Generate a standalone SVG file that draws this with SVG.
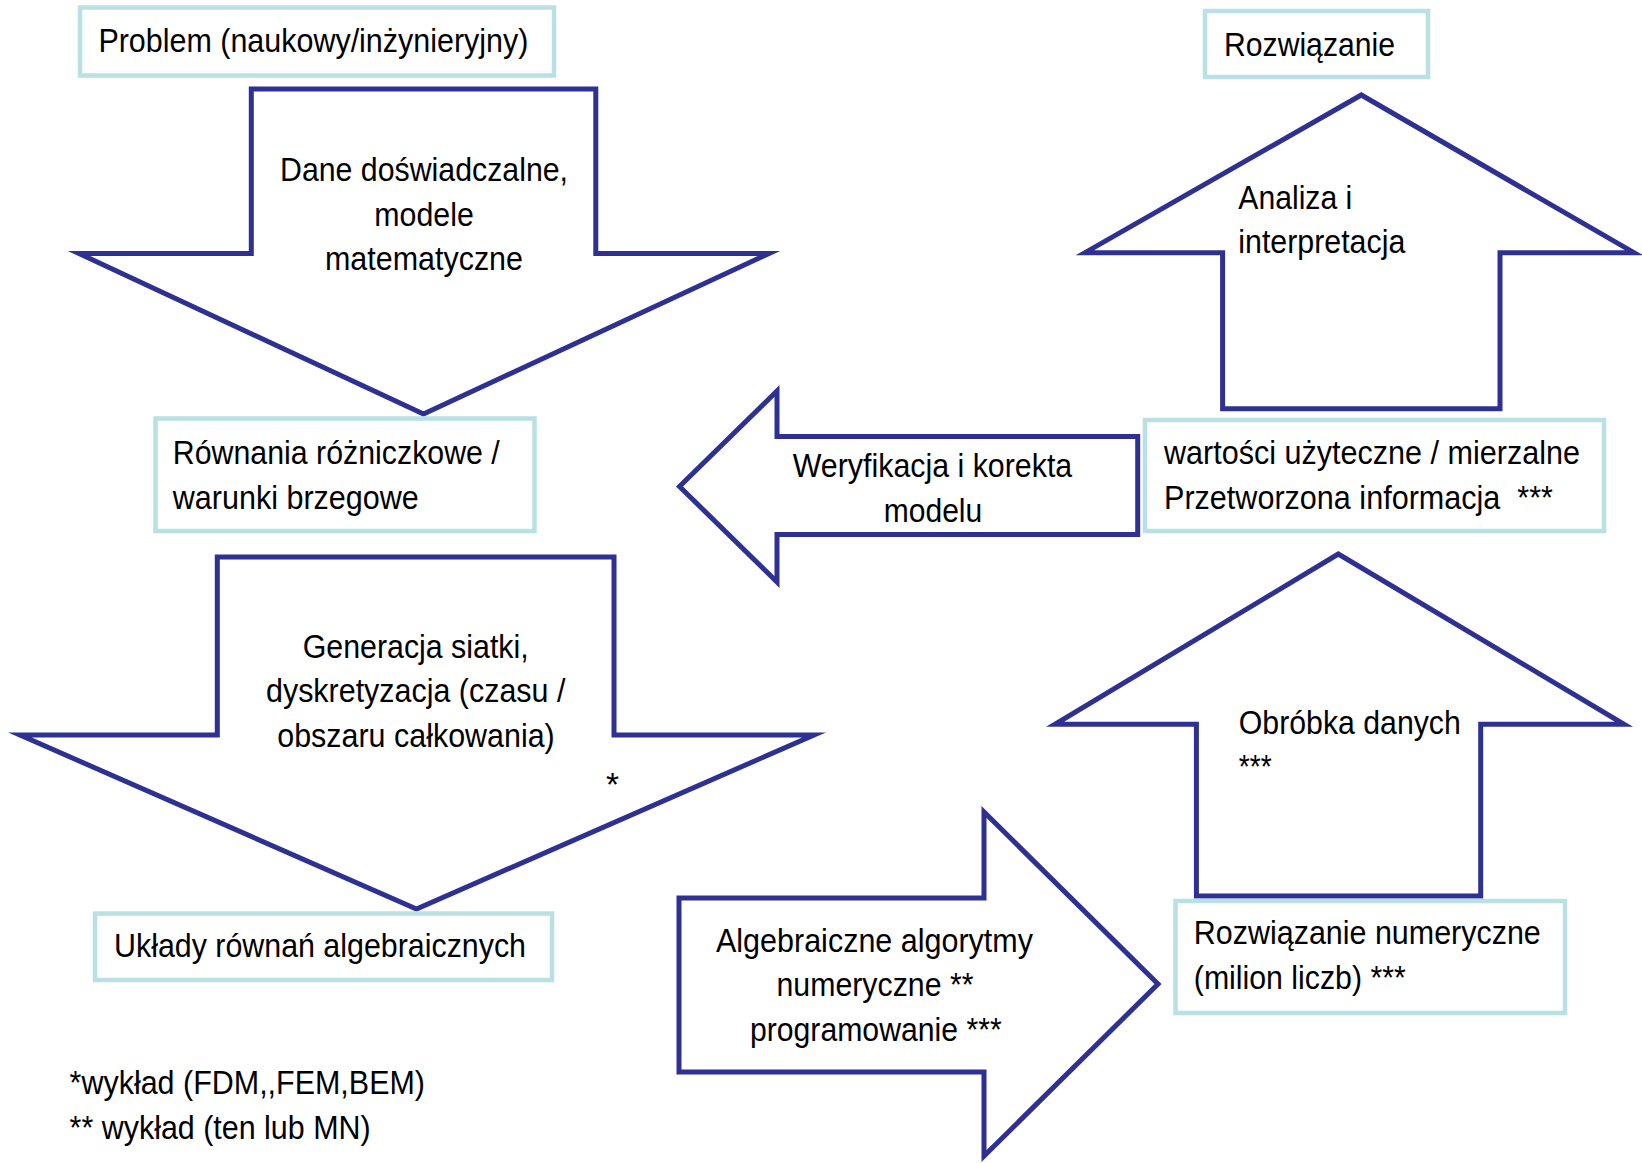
<svg xmlns="http://www.w3.org/2000/svg" width="1642" height="1163" viewBox="0 0 1642 1163">
<style>
.arrow{fill:#fff;stroke:#2e3192;stroke-width:5;stroke-linejoin:miter;stroke-miterlimit:10}
.box{fill:#fff;stroke:#b9e0e3;stroke-width:4.5}
text{font-family:"Liberation Sans",Arial,sans-serif;font-size:33.5px;fill:#000}
.m{text-anchor:middle}
</style>
<rect width="1642" height="1163" fill="#fff"/>
<g id="connectors">
<g id="arrow-dane">
<polygon class="arrow" points="251.3,89 595.8,89 595.8,253.5 769,253.5 423.5,414 79,253.5 251.3,253.5"/>
<text class="m" x="424" y="181.3" textLength="288" lengthAdjust="spacingAndGlyphs">Dane doświadczalne,</text>
<text class="m" x="424" y="225.7" textLength="99.5" lengthAdjust="spacingAndGlyphs">modele</text>
<text class="m" x="424" y="270" textLength="198" lengthAdjust="spacingAndGlyphs">matematyczne</text>
</g>
<g id="arrow-generacja">
<polygon class="arrow" points="217.3,557 614,557 614,735 814,735 416.5,909 20,735 217.3,735"/>
<text class="m" x="415.7" y="657.7" textLength="226" lengthAdjust="spacingAndGlyphs">Generacja siatki,</text>
<text class="m" x="415.7" y="702" textLength="299.4" lengthAdjust="spacingAndGlyphs">dyskretyzacja (czasu /</text>
<text class="m" x="416" y="746.5" textLength="277.5" lengthAdjust="spacingAndGlyphs">obszaru całkowania)</text>
<text class="m" x="612.6" y="796">*</text>
</g>
<g id="arrow-algebraiczne">
<polygon class="arrow" points="679,898 984,898 984,812 1158,984 984,1156 984,1072 679,1072"/>
<text class="m" x="874.5" y="951.5" textLength="317" lengthAdjust="spacingAndGlyphs">Algebraiczne algorytmy</text>
<text class="m" x="875" y="996" textLength="197" lengthAdjust="spacingAndGlyphs">numeryczne **</text>
<text class="m" x="875.8" y="1040.5" textLength="251.7" lengthAdjust="spacingAndGlyphs">programowanie ***</text>
</g>
<g id="arrow-obrobka">
<polygon class="arrow" points="1196.4,896 1480.7,896 1480.7,724.3 1624,724.3 1338.3,554 1055,724.3 1196.4,724.3"/>
<text x="1238.8" y="733.5" textLength="222" lengthAdjust="spacingAndGlyphs">Obróbka danych</text>
<text x="1238.8" y="778" textLength="33" lengthAdjust="spacingAndGlyphs">***</text>
</g>
<g id="arrow-analiza">
<polygon class="arrow" points="1222.6,408.8 1500,408.8 1500,252.7 1634,252.7 1361.3,95 1085,252.7 1222.6,252.7"/>
<text x="1238.3" y="209" textLength="114" lengthAdjust="spacingAndGlyphs">Analiza i</text>
<text x="1238.3" y="253.4" textLength="167" lengthAdjust="spacingAndGlyphs">interpretacja</text>
</g>
<g id="arrow-weryfikacja">
<polygon class="arrow" points="1137.7,436.5 777,436.5 777,391 679.5,486.5 777,582 777,534.6 1137.7,534.6"/>
<text class="m" x="932.5" y="477" textLength="279.5" lengthAdjust="spacingAndGlyphs">Weryfikacja i korekta</text>
<text class="m" x="933" y="521.6" textLength="98.5" lengthAdjust="spacingAndGlyphs">modelu</text>
</g>
</g>
<g id="node-problem">
<rect class="box" x="80" y="7.5" width="474" height="68"/>
<text x="98.4" y="51.8" textLength="430" lengthAdjust="spacingAndGlyphs">Problem (naukowy/inżynieryjny)</text>
</g>
<g id="node-rownania">
<rect class="box" x="155.5" y="418.5" width="379" height="112.5"/>
<text x="172.8" y="464.3" textLength="327" lengthAdjust="spacingAndGlyphs">Równania różniczkowe /</text>
<text x="172.8" y="508.7" textLength="246" lengthAdjust="spacingAndGlyphs">warunki brzegowe</text>
</g>
<g id="node-uklady">
<rect class="box" x="95" y="913.5" width="457" height="66.5"/>
<text x="114" y="957.4" textLength="412" lengthAdjust="spacingAndGlyphs">Układy równań algebraicznych</text>
</g>
<g id="node-rozw-num">
<rect class="box" x="1175.5" y="901" width="389.5" height="112"/>
<text x="1193.8" y="944.4" textLength="347" lengthAdjust="spacingAndGlyphs">Rozwiązanie numeryczne</text>
<text x="1193.8" y="988.8" textLength="212" lengthAdjust="spacingAndGlyphs">(milion liczb) ***</text>
</g>
<g id="node-wartosci">
<rect class="box" x="1145" y="420" width="459" height="111"/>
<text x="1164" y="464.3" textLength="416" lengthAdjust="spacingAndGlyphs">wartości użyteczne / mierzalne</text>
<text x="1164" y="508.7" textLength="389" lengthAdjust="spacingAndGlyphs">Przetworzona informacja&#160;&#160;***</text>
</g>
<g id="node-rozwiazanie">
<rect class="box" x="1205" y="11" width="223" height="66"/>
<text x="1224" y="55.5" textLength="171" lengthAdjust="spacingAndGlyphs">Rozwiązanie</text>
</g>
<g id="footnotes">
<text x="69.6" y="1094" textLength="355.4" lengthAdjust="spacingAndGlyphs">*wykład (FDM,,FEM,BEM)</text>
<text x="69.6" y="1138.6" textLength="301" lengthAdjust="spacingAndGlyphs">** wykład (ten lub MN)</text>
</g>
</svg>
